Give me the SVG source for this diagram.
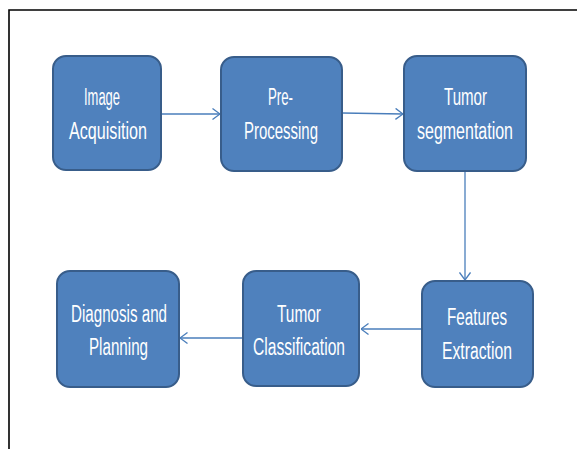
<svg xmlns="http://www.w3.org/2000/svg" width="577" height="449" viewBox="0 0 577 449">
<defs>
<style>
.node rect{fill:#4F81BD;stroke:#385D8A;stroke-width:2}
.node text{fill:#FFFFFF;font-family:"Liberation Sans",Arial,sans-serif;font-size:23px}
.conn line{stroke:#4A7EBB;stroke-width:1.3;fill:none}
.frame{stroke:#000;stroke-width:1.6;fill:none}
</style>
<marker id="arr" viewBox="0 0 10 12" refX="9.5" refY="6" markerWidth="10" markerHeight="12" markerUnits="userSpaceOnUse" orient="auto">
<path d="M2,0.5 L9.5,6 L2,11.5" fill="none" stroke="#4A7EBB" stroke-width="1.3"/>
</marker>
</defs>
<rect width="577" height="449" fill="#FFFFFF"/>
<path class="frame" d="M9,449 L9,10 L577,10"/>
<g class="conn">
<line x1="162" y1="114" x2="220" y2="114" marker-end="url(#arr)"/>
<line x1="342" y1="113" x2="403" y2="114" marker-end="url(#arr)"/>
<line x1="465" y1="171" x2="465" y2="280" marker-end="url(#arr)"/>
<line x1="422" y1="329" x2="361" y2="329" marker-end="url(#arr)"/>
<line x1="243" y1="338" x2="180" y2="338" marker-end="url(#arr)"/>
</g>
<g class="node" id="image-acquisition">
<rect x="53" y="56" width="108" height="114" rx="13"/>
<text x="84" y="105" textLength="36" lengthAdjust="spacingAndGlyphs">Image</text>
<text x="69" y="139" textLength="78" lengthAdjust="spacingAndGlyphs">Acquisition</text>
</g>
<g class="node" id="pre-processing">
<rect x="221" y="57" width="121" height="114" rx="13"/>
<text x="268" y="105" textLength="25" lengthAdjust="spacingAndGlyphs">Pre-</text>
<text x="244" y="139" textLength="74" lengthAdjust="spacingAndGlyphs">Processing</text>
</g>
<g class="node" id="tumor-segmentation">
<rect x="404" y="56" width="122" height="115" rx="13"/>
<text x="444" y="105" textLength="43" lengthAdjust="spacingAndGlyphs">Tumor</text>
<text x="417" y="139" textLength="96" lengthAdjust="spacingAndGlyphs">segmentation</text>
</g>
<g class="node" id="features-extraction">
<rect x="422" y="281" width="111" height="106" rx="13"/>
<text x="447" y="325" textLength="60" lengthAdjust="spacingAndGlyphs">Features</text>
<text x="442" y="359" textLength="70" lengthAdjust="spacingAndGlyphs">Extraction</text>
</g>
<g class="node" id="tumor-classification">
<rect x="243" y="271" width="116" height="115" rx="13"/>
<text x="277" y="322" textLength="44" lengthAdjust="spacingAndGlyphs">Tumor</text>
<text x="253" y="355" textLength="92" lengthAdjust="spacingAndGlyphs">Classification</text>
</g>
<g class="node" id="diagnosis-planning">
<rect x="57" y="271" width="122" height="116" rx="13"/>
<text x="71" y="322" textLength="96" lengthAdjust="spacingAndGlyphs">Diagnosis and</text>
<text x="89" y="355" textLength="59" lengthAdjust="spacingAndGlyphs">Planning</text>
</g>
</svg>
